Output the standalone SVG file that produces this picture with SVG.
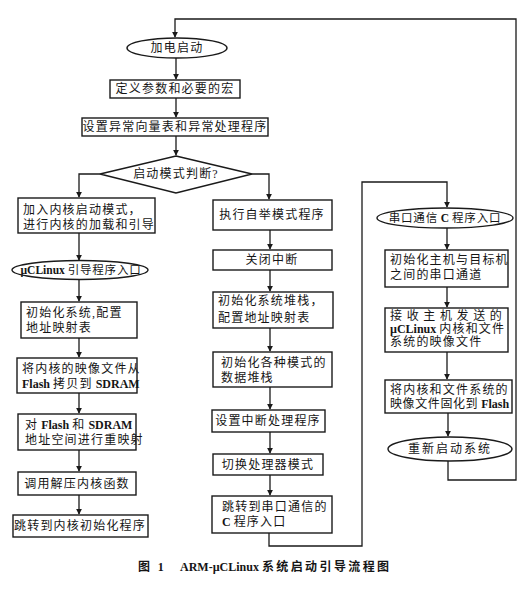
<svg xmlns="http://www.w3.org/2000/svg" width="530" height="592" viewBox="0 0 530 592">
<defs>
<marker id="ah" viewBox="0 0 8 8" refX="7" refY="4" markerWidth="6" markerHeight="6" markerUnits="userSpaceOnUse" orient="auto">
<path d="M0,0 L8,4 L0,8 z" fill="#1a1a1a"/>
</marker>
<style>
.b{fill:#fff;stroke:#1a1a1a;stroke-width:1.4}
.c{fill:none;stroke:#1a1a1a;stroke-width:1.3}
.t{font-family:"Liberation Serif","Noto Sans CJK SC",serif;font-size:12px;fill:#151515;letter-spacing:1.2px}
.m{text-anchor:middle}
.l{letter-spacing:0;font-weight:bold}
.cap{font-weight:bold;letter-spacing:2.4px}
.e{font-size:11.5px;letter-spacing:0.8px}
</style>
</defs>
<rect width="530" height="592" fill="#fff"/>
<g id="connectors">
<path class="c" d="M269,533 V546 H362 V182 H447 V207" marker-end="url(#ah)"/>
<path class="c" d="M448,461 V480 H516 V19 H175 V37" marker-end="url(#ah)"/>
<path class="c" d="M176,58 V79" marker-end="url(#ah)"/>
<path class="c" d="M176,98 V117" marker-end="url(#ah)"/>
<path class="c" d="M176,136 V155" marker-end="url(#ah)"/>
<path class="c" d="M100,174 H79 V197" marker-end="url(#ah)"/>
<path class="c" d="M252,174 H269 V199" marker-end="url(#ah)"/>
<path class="c" d="M79,233 V260" marker-end="url(#ah)"/>
<path class="c" d="M79,279 V301" marker-end="url(#ah)"/>
<path class="c" d="M79,338 V357" marker-end="url(#ah)"/>
<path class="c" d="M79,393 V413" marker-end="url(#ah)"/>
<path class="c" d="M79,450 V471" marker-end="url(#ah)"/>
<path class="c" d="M79,495 V514" marker-end="url(#ah)"/>
<path class="c" d="M270,230 V249" marker-end="url(#ah)"/>
<path class="c" d="M270,270 V291" marker-end="url(#ah)"/>
<path class="c" d="M270,328 V351" marker-end="url(#ah)"/>
<path class="c" d="M270,387 V409" marker-end="url(#ah)"/>
<path class="c" d="M270,432 V453" marker-end="url(#ah)"/>
<path class="c" d="M270,475 V495" marker-end="url(#ah)"/>
<path class="c" d="M447,228 V249" marker-end="url(#ah)"/>
<path class="c" d="M447,287 V307" marker-end="url(#ah)"/>
<path class="c" d="M447,352 V379" marker-end="url(#ah)"/>
<path class="c" d="M448,413 V436" marker-end="url(#ah)"/>
</g>
<g id="power_on"><ellipse class="b" cx="177" cy="48" rx="50" ry="10"/><text class="t m" x="177" y="52">加电启动</text></g>
<g id="define_params"><rect class="b" x="110" y="80" width="130" height="18"/><text class="t m" x="175" y="93">定义参数和必要的宏</text></g>
<g id="set_vectors"><rect class="b" x="82" y="118" width="186" height="18"/><text class="t m" x="175" y="131">设置异常向量表和异常处理程序</text></g>
<g id="mode_decision"><polygon class="b" points="176,156 252,174 176,193 100,174"/><text class="t m" x="176" y="178">启动模式判断?</text></g>

<g id="kernel_mode"><rect class="b" x="18" y="198" width="137" height="35"/><text class="t" x="23" y="214">加入内核启动模式，</text><text class="t" x="23" y="229">进行内核的加载和引导</text></g>
<g id="uclinux_entry"><ellipse class="b" cx="80" cy="270" rx="68" ry="9.5"/><text class="t m e" x="81" y="274"><tspan class="l">µCLinux </tspan>引导程序入口</text></g>
<g id="init_system"><rect class="b" x="21" y="302" width="116" height="36"/><text class="t" x="26" y="317">初始化系统,配置</text><text class="t" x="26" y="332">地址映射表</text></g>
<g id="copy_image"><rect class="b" x="17" y="358" width="120" height="35"/><text class="t" x="22" y="373">将内核的映像文件从</text><text class="t" x="22" y="388"><tspan class="l">Flash </tspan>拷贝到<tspan class="l"> SDRAM</tspan></text></g>
<g id="remap"><rect class="b" x="18" y="414" width="118" height="36"/><text class="t" x="25" y="429">对<tspan class="l"> Flash </tspan>和<tspan class="l"> SDRAM</tspan></text><text class="t" x="25" y="444">地址空间进行重映射</text></g>
<g id="decompress"><rect class="b" x="18" y="472" width="118" height="23"/><text class="t m" x="77" y="488">调用解压内核函数</text></g>
<g id="jump_kernel"><rect class="b" x="13" y="515" width="135" height="22"/><text class="t m" x="80" y="530">跳转到内核初始化程序</text></g>

<g id="bootstrap"><rect class="b" x="213" y="200" width="119" height="30"/><text class="t m" x="272" y="219">执行自举模式程序</text></g>
<g id="disable_irq"><rect class="b" x="213" y="250" width="119" height="20"/><text class="t m" x="272" y="264">关闭中断</text></g>
<g id="init_stack"><rect class="b" x="213" y="292" width="120" height="36"/><text class="t" x="218" y="305">初始化系统堆栈，</text><text class="t" x="218" y="322">配置地址映射表</text></g>
<g id="mode_stacks"><rect class="b" x="213" y="352" width="119" height="35"/><text class="t" x="221" y="367">初始化各种模式的</text><text class="t" x="221" y="382">数据堆栈</text></g>
<g id="irq_handler"><rect class="b" x="212" y="410" width="113" height="22"/><text class="t m" x="268" y="425">设置中断处理程序</text></g>
<g id="switch_mode"><rect class="b" x="213" y="454" width="110" height="21"/><text class="t m" x="268" y="469">切换处理器模式</text></g>
<g id="jump_serial"><rect class="b" x="212" y="496" width="120" height="37"/><text class="t" x="222" y="511">跳转到串口通信的</text><text class="t" x="222" y="526"><tspan class="l">C </tspan>程序入口</text></g>

<g id="serial_entry"><ellipse class="b" cx="445" cy="218" rx="68" ry="10"/><text class="t m e" x="445" y="222">串口通信<tspan class="l"> C </tspan>程序入口</text></g>
<g id="init_serial"><rect class="b" x="385" y="250" width="123" height="37"/><text class="t" x="390" y="264">初始化主机与目标机</text><text class="t" x="390" y="279">之间的串口通道</text></g>
<g id="receive_image"><rect class="b" x="385" y="308" width="123" height="44"/><text class="t" x="390" y="320" textLength="113" lengthAdjust="spacing">接收主机发送的</text><text class="t" x="390" y="333"><tspan class="l">µCLinux </tspan>内核和文件</text><text class="t" x="390" y="346">系统的映像文件</text></g>
<g id="burn_flash"><rect class="b" x="385" y="380" width="127" height="33"/><text class="t" x="390" y="394">将内核和文件系统的</text><text class="t" x="390" y="408" style="letter-spacing:0.6px">映像文件固化到<tspan class="l"> Flash</tspan></text></g>
<g id="reboot"><ellipse class="b" cx="450" cy="449" rx="62" ry="12"/><text class="t m" x="450" y="453" style="letter-spacing:2px">重新启动系统</text></g>

<text class="t cap" x="138" y="571">图 1</text>
<text class="t cap" x="180" y="571"><tspan class="l">ARM-µCLinux </tspan>系统启动引导流程图</text>
</svg>
